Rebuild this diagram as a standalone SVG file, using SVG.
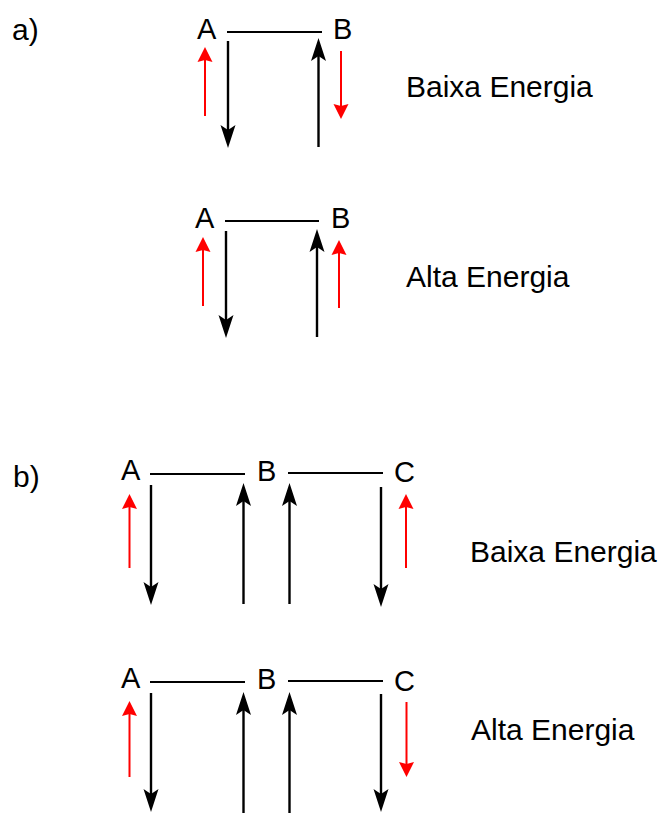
<svg xmlns="http://www.w3.org/2000/svg" width="665" height="813" viewBox="0 0 665 813">
  <style>
    text { font-family: "Liberation Sans", Arial, sans-serif; fill: #000; }
    .atom { font-size: 29px; }
    .tag { font-size: 30px; }
    .label { font-size: 30px; }
    .bond { stroke: #000; stroke-width: 2; fill: none; }
    .spin { stroke: #000; stroke-width: 2.4; fill: none; marker-end: url(#headBlack); }
    .ext { stroke: #f00; stroke-width: 2; fill: none; marker-end: url(#headRed); }
  </style>
  <defs>
    <!-- concave black arrowhead; tip sits 9px past the line end -->
    <marker id="headBlack" viewBox="-16 -9 26 18" markerWidth="26" markerHeight="18" refX="0" refY="0" orient="auto" markerUnits="userSpaceOnUse" overflow="visible">
      <path d="M9,0 L-14,-7.5 L-9,0 L-14,7.5 Z" fill="#000"/>
    </marker>
    <!-- red arrowhead; tip sits 7px past the line end -->
    <marker id="headRed" viewBox="-10 -9 18 18" markerWidth="18" markerHeight="18" refX="0" refY="0" orient="auto" markerUnits="userSpaceOnUse" overflow="visible">
      <path d="M7,0 L-8,-7.5 L-6,0 L-8,7.5 Z" fill="#f00"/>
    </marker>
  </defs>

  <!-- panel tags -->
  <text id="tag-a" class="tag" x="12" y="40">a)</text>
  <text id="tag-b" class="tag" x="13" y="487">b)</text>

  <!-- a) low energy -->
  <g id="a-low-A"><text class="atom" x="197" y="39">A</text></g>
  <g id="a-low-B"><text class="atom" x="333" y="39">B</text></g>
  <g id="a-low-label"><text class="label" x="406" y="97">Baixa Energia</text></g>

  <!-- a) high energy -->
  <g id="a-high-A"><text class="atom" x="195" y="228">A</text></g>
  <g id="a-high-B"><text class="atom" x="331" y="228">B</text></g>
  <g id="a-high-label"><text class="label" x="406" y="287">Alta Energia</text></g>

  <!-- b) low energy -->
  <g id="b-low-A"><text class="atom" x="121" y="480">A</text></g>
  <g id="b-low-B"><text class="atom" x="257" y="481">B</text></g>
  <g id="b-low-C"><text class="atom" x="394" y="482">C</text></g>
  <g id="b-low-label"><text class="label" x="470" y="562">Baixa Energia</text></g>

  <!-- b) high energy -->
  <g id="b-high-A"><text class="atom" x="121" y="688">A</text></g>
  <g id="b-high-B"><text class="atom" x="257" y="689">B</text></g>
  <g id="b-high-C"><text class="atom" x="394" y="691">C</text></g>
  <g id="b-high-label"><text class="label" x="471" y="740">Alta Energia</text></g>

  <g id="connectors">
    <!-- a) low energy -->
    <path class="bond" d="M227,32 H322"/>
    <path class="spin" d="M228,41 V139"/>
    <path class="spin" d="M318.5,147 V47"/>
    <path class="ext" d="M205,116 V54"/>
    <path class="ext" d="M341,51 V112"/>

    <!-- a) high energy -->
    <path class="bond" d="M225,221 H319"/>
    <path class="spin" d="M226,231 V329"/>
    <path class="spin" d="M317,337 V238"/>
    <path class="ext" d="M203,306 V244"/>
    <path class="ext" d="M339,308 V247"/>

    <!-- b) low energy -->
    <path class="bond" d="M150,474 H245"/>
    <path class="bond" d="M288,473 H383"/>
    <path class="spin" d="M151,485 V596"/>
    <path class="spin" d="M243.5,604 V492"/>
    <path class="spin" d="M289.5,604 V492"/>
    <path class="spin" d="M381,487 V598"/>
    <path class="ext" d="M129.5,568 V501"/>
    <path class="ext" d="M406,568 V501"/>

    <!-- b) high energy -->
    <path class="bond" d="M150,682 H245"/>
    <path class="bond" d="M288,681 H383"/>
    <path class="spin" d="M151,693 V803"/>
    <path class="spin" d="M243.5,813 V701"/>
    <path class="spin" d="M289.5,813 V701"/>
    <path class="spin" d="M381,694 V803"/>
    <path class="ext" d="M129.5,777 V708"/>
    <path class="ext" d="M406.5,702 V770"/>
  </g>
</svg>
